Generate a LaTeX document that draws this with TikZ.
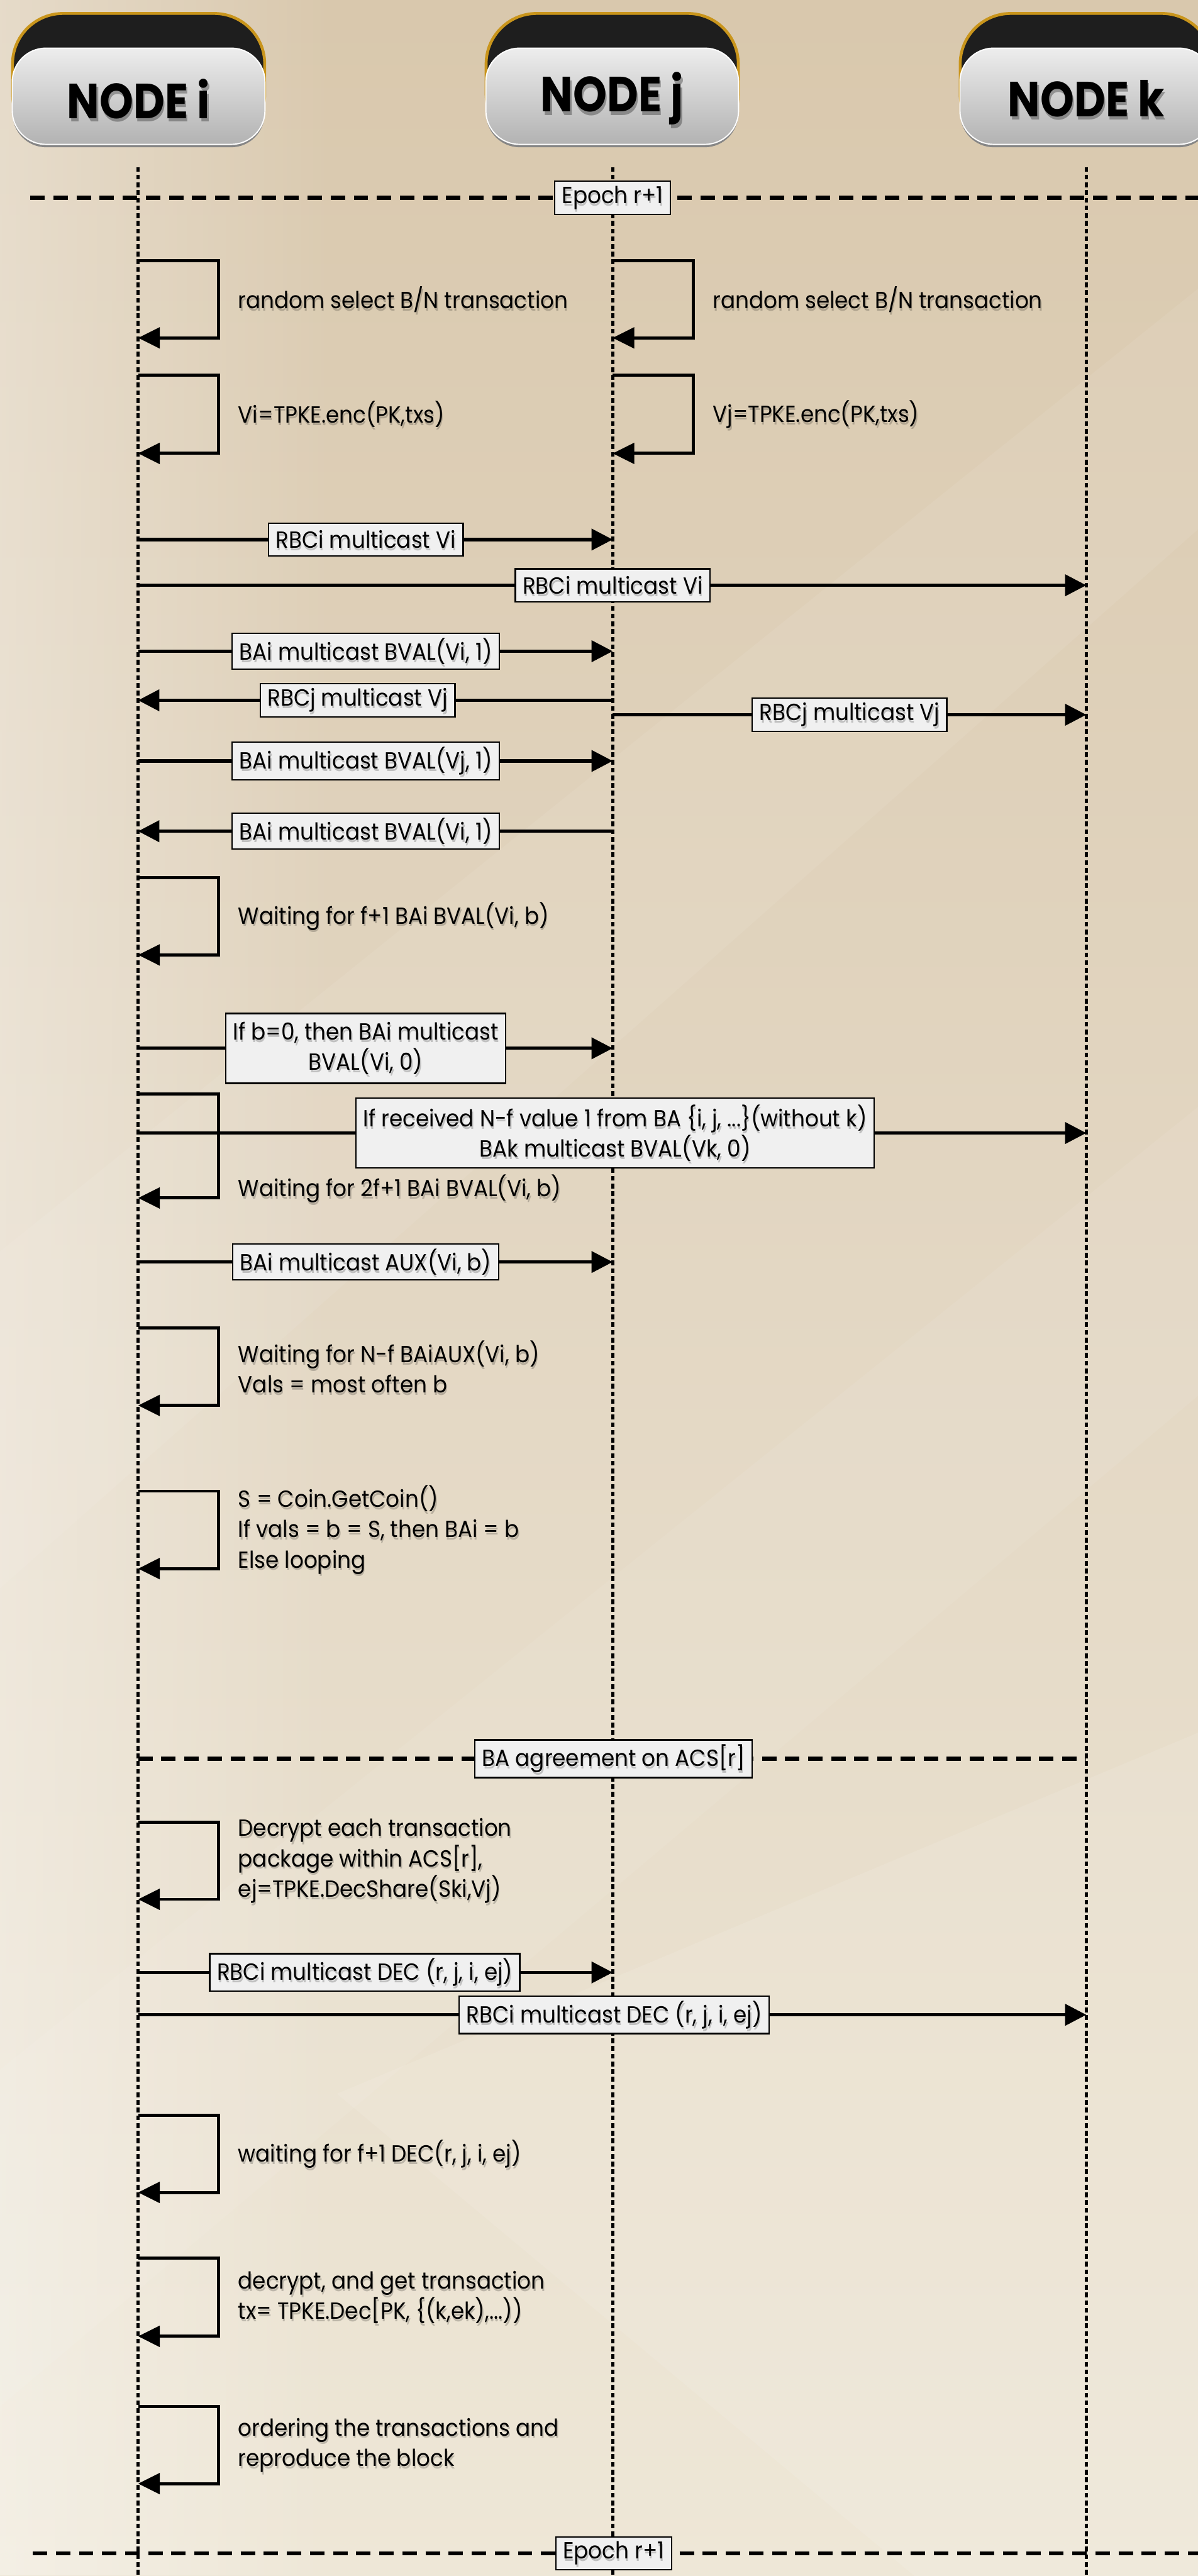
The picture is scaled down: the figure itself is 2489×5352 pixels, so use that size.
\documentclass[tikz,border=0pt]{standalone}
\usepackage{fontspec}
\setmainfont{Poppins}[FakeStretch=0.92]
\usetikzlibrary{arrows.meta,fadings}

\definecolor{bgtop}{HTML}{D9C8AD}
\definecolor{bgmid}{HTML}{E3D7C3}
\definecolor{bgbot}{HTML}{EEE7D7}
\definecolor{gold}{HTML}{C9951C}
\definecolor{headblack}{HTML}{1E1E1E}
\definecolor{headedge}{HTML}{868686}
\definecolor{boxfill}{HTML}{F0F0F0}

\tikzset{
  every node/.style={font=\fontsize{9.7pt}{12.6pt}\selectfont},
  lifeline/.style={line width=1.3pt, dash pattern=on 2pt off 1.2pt},
  epochline/.style={line width=1.6pt, dash pattern=on 6pt off 3.6pt},
  msg/.style={line width=1.35pt, -{Triangle[length=8.8pt,width=8.8pt]}},
  loopline/.style={line width=1.3pt, -{Triangle[length=9pt,width=8.6pt]}},
  lblbox/.style={draw=black, line width=0.6pt, fill=boxfill, inner xsep=3pt,
    inner ysep=2pt, minimum height=13.6pt, align=center, text opacity=0},
  lbltext/.style={inner xsep=3pt, inner ysep=2pt, align=center},
  looptext/.style={inner sep=0pt, align=left, anchor=west},
  shadowcopy/.style={text=black, text opacity=0.2},
  headbox/.style={minimum width=105pt, minimum height=40pt, rounded corners=14pt,
    top color=white!93!black, bottom color=white!70!black, draw=white, line width=0.5pt},
  headtext/.style={font=\fontsize{20.5pt}{24pt}\selectfont\bfseries, inner sep=0pt},
}

\newcommand\lab[5][]{%
  \node[lblbox,#1] (#2) at ({#3},{#4}) {#5};
  \node[lbltext,#1,shadowcopy] (#2s) at ({#3+2},{#4+5}) {#5};
  \node[lbltext,#1] (#2t) at ({#3},{#4}) {#5};
}
\newcommand\msgarrow[7][]{%
  \coordinate (#2a) at ({#4},{#3});
  \coordinate (#2b) at ({#5},{#3});
  \draw[msg] (#2a) -- (#2b);
  \lab[#1]{#2l}{#6}{#3}{#7}
}
\newcommand\looptxt[4]{%
  \node[looptext,shadowcopy] (#1s) at ({#2+2},{#3+5}) {#4};
  \node[looptext] (#1) at ({#2},{#3}) {#4};
}
\newcommand\selfloopat[6]{%
  \coordinate (#1a) at ({#2},{#3});
  \coordinate (#1b) at ({#2+167},{#3});
  \coordinate (#1c) at ({#2+167},{#4});
  \coordinate (#1d) at ({#2},{#4});
  \draw[loopline] (#1a) -- (#1b) -- (#1c) -- (#1d);
  \looptxt{#1t}{#2+207}{#5}{#6}
}
\newcommand\selfloop[5]{\selfloopat{#1}{#2}{#3}{#4}{(#3+#4)/2}{#5}}
\newcommand\header[3]{%
  \draw[draw=gold, fill=headblack, line width=1.2pt, rounded corners=21pt]
    ({#2-262},28) rectangle ({#2+262},300);
  \fill[headedge, rounded corners=14pt] ({#2-262},108) rectangle ({#2+262},306);
  \node[headbox] (#1) at ({#2},200) {};
  \node[headtext, text=black, text opacity=0.3] (#1s) at ({#2+3},212) {\scalebox{0.95}[1]{#3}};
  \node[headtext] (#1t) at ({#2},205) {\scalebox{0.95}[1]{#3}};
}

\begin{document}
\begin{tikzpicture}[x=0.2pt,y=-0.2pt]
\path[use as bounding box] (0,0) rectangle (2489,5352);
\clip (0,0) rectangle (2489,5352);
% background
\shade[top color=bgtop, bottom color=bgbot, middle color=bgmid] (0,0) rectangle (2489,5352);
\fill[white, opacity=0.35, path fading=east] (0,0) rectangle (700,5352);
\fill[white, opacity=0.07] (0,2600) -- (2489,600) -- (2489,1100) -- (0,3300) -- cycle;
\fill[white, opacity=0.07] (0,4300) -- (2489,2300) -- (2489,2900) -- (0,5000) -- cycle;
\fill[white, opacity=0.10] (700,4350) -- (2489,3600) -- (2489,5352) -- (1900,5352) -- cycle;

% headers
\header{hi}{288}{NODE i}
\header{hj}{1272}{NODE j}
\header{hk}{2257}{NODE k}

% lifelines
\coordinate (li0) at (287,347);  \coordinate (li1) at (287,5352);
\coordinate (lj0) at (1273,347); \coordinate (lj1) at (1273,5352);
\coordinate (lk0) at (2257,347); \coordinate (lk1) at (2257,5352);
\draw[lifeline] (li0) -- (li1);
\draw[lifeline] (lj0) -- (lj1);
\draw[lifeline] (lk0) -- (lk1);

% epoch separators
\coordinate (e1a) at (63,411);  \coordinate (e1b) at (2489,411);
\draw[epochline] (e1a) -- (e1b);
\lab{ep1}{1273}{411}{Epoch r+1}

\coordinate (baa) at (287,3654); \coordinate (bab) at (2257,3654);
\draw[epochline] (baa) -- (bab);
\lab{ba}{1275}{3654}{BA agreement on ACS[r]}

\coordinate (e2a) at (68,5305);  \coordinate (e2b) at (2489,5305);
\draw[epochline] (e2a) -- (e2b);
\lab{ep2}{1275}{5305}{Epoch r+1}

% self loops
\selfloop{l1}{287}{542}{702}{random select B/N transaction}
\selfloop{l2}{1273}{542}{702}{random select B/N transaction}
\selfloop{l3}{287}{780}{942}{Vi=TPKE.enc(PK,txs)}
\selfloop{l4}{1273}{780}{942}{Vj=TPKE.enc(PK,txs)}
\selfloop{l5}{287}{1823}{1984}{Waiting for f+1 BAi BVAL(Vi, b)}
\selfloopat{l6}{287}{2273}{2489}{2470}{Waiting for 2f+1 BAi BVAL(Vi, b)}
\selfloop{l7}{287}{2759}{2920}{Waiting for N-f BAiAUX(Vi, b)\\Vals = most often b}
\selfloop{l8}{287}{3098}{3259}{S = Coin.GetCoin()\\If vals = b = S, then BAi = b\\Else looping}
\selfloop{l9}{287}{3786}{3946}{Decrypt each transaction\\package within ACS[r],\\ej=TPKE.DecShare(Ski,Vj)}
\selfloop{l10}{287}{4395}{4555}{waiting for f+1 DEC(r, j, i, ej)}
\selfloop{l11}{287}{4692}{4854}{decrypt, and get transaction\\tx= TPKE.Dec[PK, \{(k,ek),...))}
\selfloop{l12}{287}{5000}{5160}{ordering the transactions and\\reproduce the block}

% messages
\msgarrow{m1}{1121}{287}{1273}{760}{RBCi multicast Vi}
\msgarrow{m2}{1216}{287}{2257}{1273}{RBCi multicast Vi}
\msgarrow{m3}{1353}{287}{1273}{760}{BAi multicast BVAL(Vi, 1)}
\msgarrow{m4}{1455}{1273}{287}{743}{RBCj multicast Vj}
\msgarrow{m5}{1485}{1273}{2257}{1765}{RBCj multicast Vj}
\msgarrow{m6}{1581}{287}{1273}{760}{BAi multicast BVAL(Vj, 1)}
\msgarrow{m7}{1727}{1273}{287}{760}{BAi multicast BVAL(Vi, 1)}
\msgarrow[minimum height=29pt]{m8}{2178}{287}{1273}{760}{If b=0, then BAi multicast\\BVAL(Vi, 0)}
\msgarrow[minimum height=29pt]{m9}{2354}{287}{2257}{1278}{If received N-f value 1 from BA \{i, j, ...\}(without k)\\BAk multicast BVAL(Vk, 0)}
\msgarrow{m10}{2622}{287}{1273}{760}{BAi multicast AUX(Vi, b)}
\msgarrow{m11}{4098}{287}{1273}{758}{RBCi multicast DEC (r, j, i, ej)}
\msgarrow{m12}{4186}{287}{2257}{1276}{RBCi multicast DEC (r, j, i, ej)}
\end{tikzpicture}
\end{document}
